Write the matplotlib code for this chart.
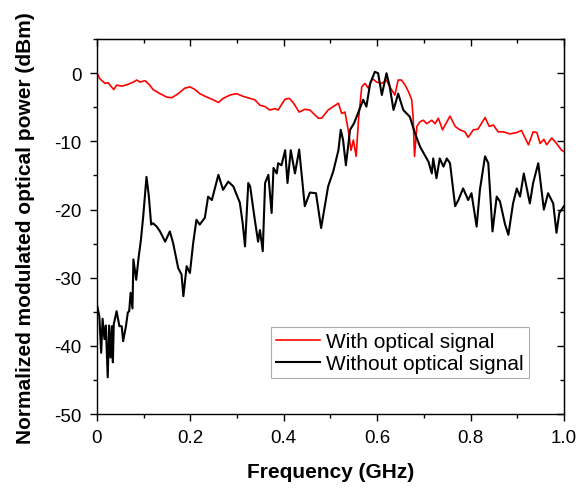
import matplotlib
matplotlib.use("Agg")
import matplotlib.pyplot as plt
from matplotlib.ticker import MultipleLocator

plt.rcParams['font.family'] = ['Liberation Sans', 'DejaVu Sans']

red_x = [0, 0.006, 0.017, 0.024, 0.031, 0.036, 0.042, 0.053, 0.064, 0.078, 0.085, 0.092, 0.103,
         0.113, 0.12, 0.135, 0.149, 0.16, 0.174, 0.188, 0.199, 0.21, 0.22, 0.235, 0.249, 0.26,
         0.27, 0.285, 0.299, 0.313, 0.328, 0.338, 0.349, 0.36, 0.37, 0.381, 0.388, 0.399, 0.403,
         0.412, 0.42, 0.433, 0.445, 0.456, 0.474, 0.481, 0.495, 0.517, 0.524, 0.531, 0.538, 0.544,
         0.549, 0.555, 0.56, 0.567, 0.574, 0.581, 0.59, 0.599, 0.61, 0.62, 0.627, 0.638, 0.645,
         0.652, 0.66, 0.667, 0.674, 0.677, 0.68, 0.685, 0.692, 0.699, 0.706, 0.717, 0.724, 0.731,
         0.74, 0.756, 0.767, 0.777, 0.788, 0.795, 0.806, 0.816, 0.831, 0.84, 0.849, 0.859, 0.87,
         0.884, 0.899, 0.909, 0.914, 0.924, 0.934, 0.942, 0.949, 0.957, 0.963, 0.974, 0.984,
         0.995, 1.0]
red_y = [0, -0.8, -1.5, -1.4, -2.0, -2.4, -1.75, -1.9, -1.7, -1.3, -1.0, -1.3, -1.1,
         -1.75, -2.4, -3.0, -3.5, -3.6, -3.0, -2.2, -2.0, -2.4, -3.0, -3.5, -3.9, -4.3,
         -3.7, -3.2, -3.0, -3.4, -3.7, -3.9, -4.7, -4.9, -5.4, -5.2, -5.4, -4.2, -3.8,
         -3.7, -4.3, -5.7, -5.3, -5.4, -6.6, -6.6, -5.4, -4.4, -5.9, -5.7, -8.3, -11.3,
         -9.8, -12.2, -6.9, -2.0, -1.5, -2.2, -0.8, -1.3, -1.5, -1.0, -2.0, -3.2, -1.0,
         -1.0, -1.75, -2.7, -3.9, -6.4, -12.2, -7.8, -7.1, -6.9, -7.4, -6.9, -7.4, -6.6,
         -8.3, -6.3, -7.8, -8.3, -8.6, -9.4, -8.3, -8.2, -6.5, -7.8, -7.6, -8.6, -8.6,
         -8.9, -8.7, -8.4, -9.1, -10.5, -8.6, -8.7, -10.3, -9.7, -10.5, -9.5, -10.3,
         -11.3, -11.5]

black_x = [0.0, 0.005, 0.009, 0.012, 0.016, 0.019, 0.023, 0.026, 0.029, 0.032, 0.034, 0.036,
           0.042, 0.048, 0.053, 0.056, 0.062, 0.066, 0.069, 0.072, 0.076, 0.078, 0.084, 0.089,
           0.094, 0.099, 0.106, 0.111, 0.116, 0.12,
           0.128, 0.135, 0.146, 0.156, 0.163, 0.174, 0.181, 0.185, 0.192, 0.199, 0.206, 0.213,
           0.22, 0.231, 0.238, 0.246, 0.26, 0.27, 0.281, 0.292, 0.306, 0.312, 0.317, 0.324,
           0.328, 0.338, 0.345, 0.349, 0.355, 0.36, 0.367, 0.374, 0.378, 0.385, 0.388, 0.395,
           0.403, 0.408, 0.415, 0.424, 0.433, 0.445, 0.456, 0.469, 0.48, 0.495, 0.506, 0.517,
           0.522, 0.527, 0.533, 0.542, 0.55, 0.56, 0.57, 0.577, 0.585, 0.595, 0.602, 0.61, 0.62,
           0.627, 0.635, 0.645, 0.656, 0.67, 0.681, 0.692, 0.71, 0.717, 0.72, 0.727, 0.734,
           0.742, 0.749, 0.756, 0.767, 0.774, 0.784, 0.795, 0.802, 0.813, 0.82, 0.831, 0.838,
           0.847, 0.856, 0.863, 0.874, 0.881, 0.891, 0.899, 0.906, 0.914, 0.927, 0.934, 0.945,
           0.957, 0.966, 0.977, 0.984, 0.99, 1.0]
black_y = [-34.0, -35.6, -41, -36, -39, -37, -44.6, -37, -41.7, -37.1, -42.4, -36.8,
           -34.9, -37.1, -37.1, -39.3, -37.1, -35.1, -34.9, -32.2, -34.5, -27.3, -30.3, -27.1,
           -24.5, -21, -15.2, -18, -22.2, -22,
           -22.5, -23.2, -24.7, -23.2, -24.9, -28.6, -29.5, -32.7, -28.3, -29.3, -24.9, -21.5,
           -22.2, -21.2, -18.1, -18.6, -14.9, -17.1, -15.9, -16.6, -19.0, -22, -25.4, -16.1,
           -16.6, -21.5, -24.7, -23, -26.1, -16.1, -14.9, -20.5, -13.9, -14.7, -13.2, -13.5,
           -11.3, -16.1, -11.3, -14.7, -11.2, -19.5, -17.5, -17.6, -22.7, -16.6, -14.4, -11.3,
           -8.3, -9.8, -13.5, -8.3, -7.4, -5.7, -3.9, -4.9, -1.5, 0.2, 0, -3.2, 0,
           -2, -5.4, -3, -5.4, -6.4, -8.8, -10.8, -13, -14.7, -12.5, -15.4, -12.5,
           -13.7, -12.5, -13.2, -19.5, -18.6, -16.9, -18.6, -17.6, -22.5, -17.1, -12.2, -13.2,
           -23.2, -18.1, -18.8, -22.2, -23.7, -19.1, -16.9, -18.1, -14.7, -19.1, -16.1, -13.2,
           -20.0, -17.6, -19.1, -23.4, -20.5, -19.5]

x_ticks = [0, 0.2, 0.4, 0.6, 0.8, 1.0]
x_tick_labels = ['0', '0.2', '0.4', '0.6', '0.8', '1.0']
y_ticks = [0, -10, -20, -30, -40, -50]
y_tick_labels = ['0', '-10', '-20', '-30', '-40', '-50']

fig = plt.figure(figsize=(5.79, 4.89), dpi=100)
ax = fig.add_axes([0.1675, 0.151, 0.8065, 0.767])

ax.plot(red_x, red_y, color='#ff0000', lw=1.2, label='With optical signal')
ax.plot(black_x, black_y, color='black', lw=1.5, label='Without optical signal')

ax.set_xlim(0, 1.0)
ax.set_ylim(-50, 5)
ax.set_xticks(x_ticks)
ax.set_xticklabels(x_tick_labels)
ax.set_yticks(y_ticks)
ax.set_yticklabels(y_tick_labels)
ax.xaxis.set_minor_locator(MultipleLocator(0.1))
ax.yaxis.set_minor_locator(MultipleLocator(5))

for s in ax.spines.values():
    s.set_linewidth(1.0)

ax.tick_params(which='both', labelsize=13.5, width=1.0)
ax.tick_params(which='major', length=5)
ax.tick_params(which='minor', length=3)
ax.tick_params(axis='x', which='both', direction='out', top=False, pad=6)
ax.tick_params(axis='y', which='both', direction='out', right=False, pad=6)

secx = ax.secondary_xaxis('top')
secx.set_xticks(x_ticks)
secx.xaxis.set_minor_locator(MultipleLocator(0.1))
secx.tick_params(which='both', direction='in', labeltop=False, width=1.0)
secx.tick_params(which='major', length=5)
secx.tick_params(which='minor', length=3)
secx.set_xticklabels([])

secy = ax.secondary_yaxis('right')
secy.set_yticks(y_ticks)
secy.yaxis.set_minor_locator(MultipleLocator(5))
secy.tick_params(which='both', direction='in', labelright=False, width=1.0)
secy.tick_params(which='major', length=5)
secy.tick_params(which='minor', length=3)
secy.set_yticklabels([])

ax.set_xlabel('Frequency (GHz)', fontsize=15, fontweight='bold', labelpad=11)
ax.set_ylabel('Normalized modulated optical power (dBm)', fontsize=15, fontweight='bold')
ax.yaxis.set_label_coords(-0.133, 0.5)

leg = ax.legend(loc='lower right', bbox_to_anchor=(0.925, 0.096), fontsize=15, frameon=True,
                fancybox=False, handlelength=2.1, handletextpad=0.3, borderpad=0.25,
                labelspacing=0.15, borderaxespad=0)
leg.get_frame().set_edgecolor('#999999')
leg.get_frame().set_linewidth(0.8)

fig.savefig('out.png', dpi=100)
